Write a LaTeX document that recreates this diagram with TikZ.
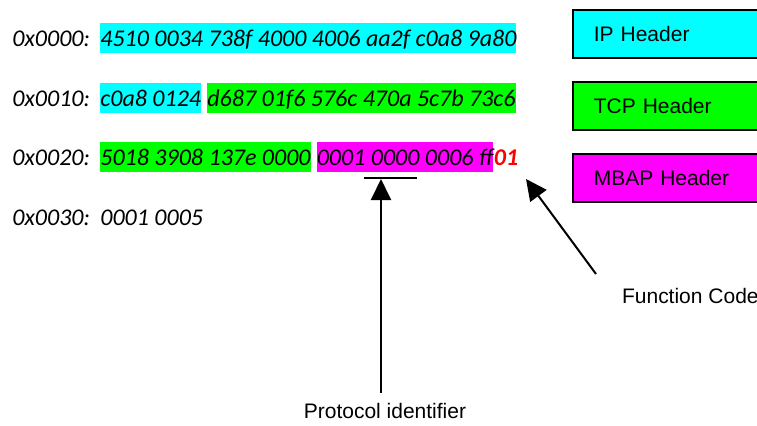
\documentclass[tikz,border=0pt]{standalone}
\usepackage{xcolor}
\usepackage{fontspec}
\setmainfont{Carlito}
\newfontfamily\arialfont{Liberation Sans}
\usepackage{tikz}
\usetikzlibrary{arrows.meta}

\definecolor{ipcol}{RGB}{0,255,255}
\definecolor{tcpcol}{RGB}{0,255,0}
\definecolor{mbapcol}{RGB}{255,0,255}
\definecolor{fccol}{RGB}{255,0,0}

\begin{document}
\begin{tikzpicture}[x=0.5pt, y=-0.5pt,
    addr/.style={anchor=base west, inner sep=0pt, font=\itshape\fontsize{12}{14}\selectfont},
    hexbox/.style={addr, text height=11.5pt, text depth=3.5pt},
    hdrbox/.style={draw, line width=0.8pt, anchor=north west, minimum height=24pt,
        inner xsep=10.5pt, text width=100pt, align=left, font=\arialfont\fontsize{10.5}{12}\selectfont},
    note/.style={font=\arialfont\fontsize{10.5}{12}\selectfont},
    ptr/.style={line width=1pt, -{Triangle[width=10pt,length=10.5pt]}}]
                \clip (0,0) rectangle (757,425);

                % Addresses
                \node[addr] (a0) at (12,46) {0x0000:};
                \node[addr] (a1) at (12,106) {0x0010:};
                \node[addr] (a2) at (12,165) {0x0020:};
                \node[addr] (a3) at (12,225) {0x0030:};

                % Row 0x0000
                \node[hexbox, fill=ipcol] (r0a) at (100,46) {4510 0034 738f 4000 4006 aa2f c0a8 9a80};

                % Row 0x0010
                \node[hexbox, fill=ipcol] (r1a) at (100,106) {c0a8 0124};
                \node[hexbox, fill=tcpcol] (r1b) at ([xshift=2.7pt]r1a.base east) {d687 01f6 576c 470a 5c7b 73c6};

                % Row 0x0020
                \node[hexbox, fill=tcpcol] (r2a) at (100,165) {5018 3908 137e 0000};
                \node[hexbox, fill=mbapcol] (r2b) at ([xshift=2.7pt]r2a.base east) {0001 0000 0006 ff};
                \node[addr, font=\bfseries\itshape\fontsize{12}{14}\selectfont, fccol] (r2c) at (r2b.base east) {01};

                % Row 0x0030
                \node[addr] (r3a) at (100,225) {0001 0005};

                % Legend
                \node[hdrbox, fill=ipcol] (ip) at (572,9) {IP Header};
                \node[hdrbox, fill=tcpcol] (tcp) at (572,81) {TCP Header};
                \node[hdrbox, fill=mbapcol] (mbap) at (572,153) {MBAP Header};

                % Protocol identifier
                \coordinate (ptip) at (381,179);
                \draw[line width=0.8pt] (364,178) -- (417,178);
                \node[note, anchor=base] (protid) at (385,418) {Protocol identifier};
                \draw[ptr, shorten <=1.5pt] (protid.north -| ptip) -- (ptip);

                % Function code
                \coordinate (ftip) at (526,179);
                \coordinate (ftail) at (596,274);
                \node[note, anchor=base west] (fc) at (615,303) {Function Code};
                \draw[ptr] (ftail) -- (ftip);
            \end{tikzpicture}
\end{document}
